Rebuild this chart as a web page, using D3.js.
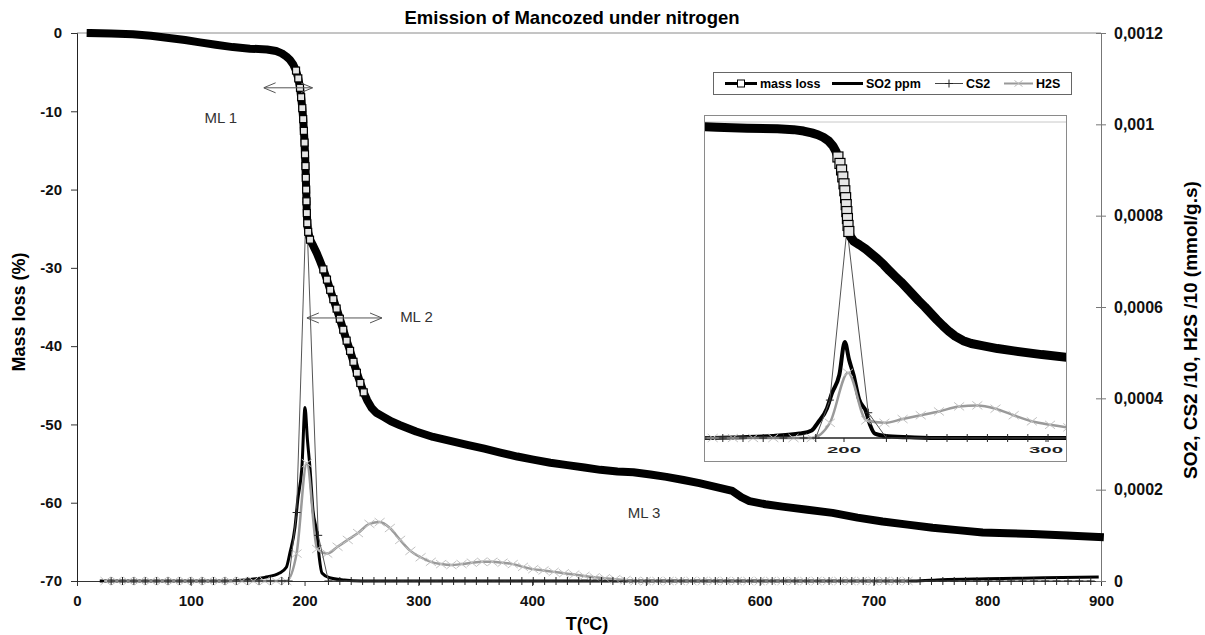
<!DOCTYPE html>
<html>
<head>
<meta charset="utf-8">
<script src="https://cdn.jsdelivr.net/npm/d3@7"></script>
<style>
  body { margin: 0; background: #fff; }
  svg { font-family: "Liberation Sans", Arial, sans-serif; }
</style>
</head>
<body>
<div id="chart"></div>
<script>
// ---- data ----
const tempTicks = [0, 100, 200, 300, 400, 500, 600, 700, 800, 900];
const massTicks = [-70, -60, -50, -40, -30, -20, -10, 0];
const emisTicks = [0, 0.0002, 0.0004, 0.0006, 0.0008, 0.001, 0.0012];
const insetTicks = [200, 300];
const legendLabels = ["mass loss", "SO2 ppm", "CS2", "H2S"];

// mass loss (%) vs T (ºC)
const massLoss = [
  [12, 0], [30, -0.05], [49, -0.15], [65, -0.35], [79, -0.6], [95, -0.9], [108, -1.2], [122, -1.5],
  [137, -1.8], [152, -2.0], [167, -2.1], [175, -2.3], [180, -2.6], [184, -3.0], [187, -3.4], [190, -4.0],
  [192.5, -4.8], [194.5, -5.8], [196, -7.0], [197, -8.2], [198, -9.6], [198.8, -11.0], [199.4, -12.5],
  [200, -14.0], [200.4, -15.5], [200.8, -17.0], [201.1, -18.5], [201.4, -20.0], [201.7, -21.5],
  [202, -23.0], [202.4, -24.3], [203.2, -25.4], [204.8, -26.4], [207.7, -27.2], [210.7, -28.1],
  [213.5, -29.1], [216.5, -30.2], [219.7, -31.5], [222.5, -32.8], [225.3, -34.0], [228.2, -35.2],
  [231, -36.5], [234, -37.9], [237, -39.3], [240, -40.6], [243, -42.0], [246, -43.4], [249, -44.7],
  [252, -45.9], [255, -46.9], [259, -47.9], [263, -48.5], [269, -49.0], [276, -49.6], [284, -50.1],
  [298, -50.9], [313, -51.6], [328, -52.1], [343, -52.6], [358, -53.1], [372, -53.6], [387, -54.1],
  [401, -54.5], [416, -54.9], [431, -55.2], [446, -55.5], [460, -55.8], [475, -56.0], [489, -56.1],
  [504, -56.4], [518, -56.7], [533, -57.1], [547, -57.5], [562, -58.0], [576, -58.5], [584, -59.3],
  [591, -59.8], [605, -60.2], [620, -60.5], [642, -60.9], [664, -61.3], [686, -61.9], [708, -62.4],
  [730, -62.8], [752, -63.2], [774, -63.5], [796, -63.8], [818, -63.9], [840, -64.0], [870, -64.2],
  [899, -64.4]
];

// SO2 ppm (mmol/g.s)
const so2 = [
  [20, 0], [60, 0], [100, 0], [130, 0], [150, 0.000003], [165, 0.000008], [178, 0.0000175],
  [184, 0.00003], [187, 0.00006], [191.6, 0.000118], [194, 0.000177], [197.7, 0.00025],
  [200.4, 0.00038], [202.5, 0.00031], [204.7, 0.00025], [207.4, 0.000155], [210.9, 0.000105],
  [213, 0.00005], [215.3, 0.0000175], [222, 0.000007], [235, 0.000002], [250, 0], [400, 0],
  [600, 0], [735, 0], [760, 0.000003], [800, 0.000005], [850, 0.000007], [898, 0.000009]
];

// CS2 /10
const cs2 = [
  [30, 0], [40, 0], [50, 0], [60, 0], [70, 0], [80, 0], [90, 0], [100, 0], [110, 0], [120, 0],
  [130, 0], [140, 0], [150, 0], [160, 0], [170, 0], [180, 0], [186, 0], [193, 0.00015],
  [201.5, 0.00083], [212, 0.0001], [221, 0], [231, 0], [241, 0], [251, 0], [261, 0], [271, 0],
  [281, 0], [291, 0], [301, 0], [311, 0], [321, 0], [331, 0], [341, 0], [351, 0], [361, 0],
  [371, 0], [381, 0], [391, 0], [401, 0], [411, 0], [421, 0], [431, 0], [441, 0], [451, 0],
  [461, 0], [471, 0], [481, 0], [491, 0], [501, 0], [511, 0], [521, 0], [531, 0], [541, 0],
  [551, 0], [561, 0], [571, 0], [581, 0], [591, 0], [601, 0], [611, 0], [621, 0], [631, 0],
  [641, 0], [651, 0], [661, 0], [671, 0], [681, 0], [691, 0], [701, 0], [711, 0], [721, 0],
  [731, 0], [741, 0], [751, 0], [761, 0], [771, 0], [781, 0], [791, 0], [801, 0], [811, 0],
  [821, 0], [831, 0], [841, 0], [851, 0], [861, 0], [871, 0], [881, 0], [891, 0]
];

// H2S /10
const h2s = [
  [25, 0], [35, 0], [45, 0], [55, 0], [65, 0], [75, 0], [85, 0], [95, 0], [105, 0], [115, 0],
  [125, 0], [135, 0], [145, 0], [155, 0], [165, 0], [175, 0], [184, 0], [193, 0.00006],
  [202, 0.000258], [211, 0.00007], [220, 0.00006], [229, 0.000075], [238, 0.00009],
  [247, 0.000105], [257, 0.000125], [266, 0.000129], [275, 0.000116], [284, 0.00009],
  [293, 0.000066], [302, 0.000052], [311, 0.000042], [320, 0.000037], [329, 0.000035],
  [338, 0.000037], [347, 0.00004], [356, 0.000042], [365, 0.000042], [374, 0.00004],
  [383, 0.000037], [392, 0.000031], [401, 0.000026], [410, 0.000023], [419, 0.00002],
  [428, 0.000017], [437, 0.000014], [446, 0.000011], [455, 0.000008], [464, 0.000006],
  [473, 0.000004], [482, 0.000002], [491, 0], [500, 0], [510, 0], [520, 0], [530, 0], [540, 0],
  [550, 0], [560, 0], [570, 0], [580, 0], [590, 0], [600, 0], [610, 0], [620, 0], [630, 0],
  [640, 0], [650, 0], [660, 0], [670, 0], [680, 0], [690, 0], [700, 0], [710, 0], [720, 0], [730, 0]
];

// ---- layout ----
const width = 1205, height = 635;

const svg = d3.select("#chart").append("svg")
  .attr("width", width)
  .attr("height", height);

const x = d3.scaleLinear().domain([0, 900]).range([77, 1101]);
const yMass = d3.scaleLinear().domain([-70, 0]).range([581, 33]);
const yEmis = d3.scaleLinear().domain([0, 0.0012]).range([581, 33]);

const fmtEmis = d => d === 0 ? "0" : String(+d.toFixed(4)).replace(".", ",");

// arrow head for the ML annotations
svg.append("defs").append("marker")
  .attr("id", "arrow")
  .attr("viewBox", "0 -6 12 12")
  .attr("refX", 12).attr("refY", 0)
  .attr("markerWidth", 12).attr("markerHeight", 12)
  .attr("markerUnits", "userSpaceOnUse")
  .attr("orient", "auto-start-reverse")
  .append("path")
  .attr("d", "M0,-5L12,0L0,5")
  .attr("fill", "none")
  .attr("stroke", "#555")
  .attr("stroke-width", 1);

svg.select("defs").append("clipPath").attr("id", "insetClip")
  .append("rect").attr("x", 705).attr("y", 116).attr("width", 361).attr("height", 330);

// top border of the plot area
svg.append("line")
  .attr("x1", x(0)).attr("x2", x(900))
  .attr("y1", yMass(0)).attr("y2", yMass(0))
  .attr("stroke", "#8a8a8a");

// ---- series drawing, shared by the main plot and the inset ----
function drawSeries(g, xs, ym, ye, opt) {
  const lineE = curve => d3.line().x(d => xs(d[0])).y(d => ye(d[1])).curve(curve);

  // SO2
  g.append("path").datum(so2)
    .attr("fill", "none").attr("stroke", "#000").attr("stroke-width", opt.so2W)
    .attr("stroke-linejoin", "round")
    .attr("d", lineE(d3.curveMonotoneX));

  // H2S
  g.append("path").datum(h2s)
    .attr("fill", "none").attr("stroke", "#9a9a9a").attr("stroke-width", opt.h2sW)
    .attr("d", lineE(d3.curveMonotoneX));
  g.append("g").selectAll("path").data(h2s).join("path")
    .attr("transform", d => `translate(${xs(d[0])},${ye(d[1])})`)
    .attr("d", "M-5,-4L5,4M-5,4L5,-4")
    .attr("fill", "none").attr("stroke", "#c2c2c2").attr("stroke-width", 1);

  // CS2
  g.append("path").datum(cs2)
    .attr("fill", "none").attr("stroke", "#555").attr("stroke-width", 1)
    .attr("d", lineE(d3.curveLinear));
  g.append("g").selectAll("path").data(cs2).join("path")
    .attr("transform", d => `translate(${xs(d[0])},${ye(d[1])})`)
    .attr("d", "M0,-4V4M-4,0H4")
    .attr("fill", "none").attr("stroke", "#222").attr("stroke-width", 1);

  // mass loss: dense open squares make a thick band
  g.append("path").datum(massLoss)
    .attr("fill", "none").attr("stroke", "#000").attr("stroke-width", opt.band)
    .attr("stroke-linejoin", "round").attr("stroke-linecap", "square")
    .attr("d", d3.line().x(d => xs(d[0])).y(d => ym(d[1])));

  const steep = massLoss.filter((d, i) => {
    const a = massLoss[Math.max(i - 1, 0)];
    const b = massLoss[Math.min(i + 1, massLoss.length - 1)];
    const dx = Math.abs(xs(b[0]) - xs(a[0]));
    const dy = Math.abs(ym(b[1]) - ym(a[1]));
    return dy > 2.5 * dx;
  });
  g.append("g").selectAll("rect").data(steep).join("rect")
    .attr("x", d => xs(d[0]) - opt.sq / 2)
    .attr("y", d => ym(d[1]) - opt.sq / 2)
    .attr("width", opt.sq).attr("height", opt.sq)
    .attr("fill", "#e6e6e6").attr("stroke", "#000").attr("stroke-width", 1.2);
}

// ---- axes ----
const xAxis = svg.append("g")
  .attr("transform", `translate(0,${yMass(-70)})`)
  .call(d3.axisBottom(x).tickValues(tempTicks).tickSize(5).tickPadding(9).tickFormat(d => String(d)));

const yAxisL = svg.append("g")
  .attr("transform", `translate(${x(0)},0)`)
  .call(d3.axisLeft(yMass).tickValues(massTicks).tickSize(6).tickPadding(9).tickFormat(d => String(d)));

const yAxisR = svg.append("g")
  .attr("transform", `translate(${x(900)},0)`)
  .call(d3.axisRight(yEmis).tickValues(emisTicks).tickSize(5).tickPadding(8).tickFormat(fmtEmis));
yAxisR.selectAll(".tick line").attr("x1", -5).attr("x2", 5);

[xAxis, yAxisL, yAxisR].forEach(a => {
  a.selectAll("text")
    .attr("font-family", "'Liberation Sans', Arial, sans-serif")
    .attr("font-size", 15)
    .attr("font-weight", "bold")
    .attr("fill", "#111");
  a.selectAll("line").attr("stroke", "#333");
});
yAxisR.selectAll("text").attr("font-size", 16);
xAxis.select(".domain").attr("stroke", "#333");
yAxisL.select(".domain").attr("stroke", "#222");
yAxisR.select(".domain").attr("stroke", "#777");
yAxisR.selectAll("line").attr("stroke", "#777");

// ---- main series ----
drawSeries(svg.append("g"), x, yMass, yEmis, { so2W: 3, h2sW: 2.5, band: 8, sq: 7 });

// ---- annotations ----
const arrows = [
  { from: [164, -7], to: [207, -7] },
  { from: [202, -36.4], to: [268, -36.4] }
];
svg.append("g").selectAll("line").data(arrows).join("line")
  .attr("x1", d => x(d.from[0])).attr("y1", d => yMass(d.from[1]))
  .attr("x2", d => x(d.to[0])).attr("y2", d => yMass(d.to[1]))
  .attr("stroke", "#555").attr("stroke-width", 1)
  .attr("marker-start", "url(#arrow)").attr("marker-end", "url(#arrow)");

const notes = [
  { text: "ML 1", t: 112, m: -11.5 },
  { text: "ML 2", t: 284, m: -36.9 },
  { text: "ML 3", t: 484, m: -61.9 }
];
svg.append("g").selectAll("text").data(notes).join("text")
  .attr("x", d => x(d.t)).attr("y", d => yMass(d.m))
  .attr("font-size", 15).attr("fill", "#333")
  .text(d => d.text);

// ---- titles ----
svg.append("text")
  .attr("x", 572).attr("y", 24)
  .attr("text-anchor", "middle")
  .attr("font-size", 18.5).attr("font-weight", "bold")
  .text("Emission of Mancozed under nitrogen");

svg.append("text")
  .attr("x", 587).attr("y", 630)
  .attr("text-anchor", "middle")
  .attr("font-size", 18).attr("font-weight", "bold")
  .text("T(ºC)");

svg.append("text")
  .attr("transform", "translate(25,312) rotate(-90)")
  .attr("text-anchor", "middle")
  .attr("font-size", 18).attr("font-weight", "bold")
  .text("Mass loss (%)");

svg.append("text")
  .attr("transform", "translate(1197,330) rotate(-90)")
  .attr("text-anchor", "middle")
  .attr("font-size", 19).attr("font-weight", "bold")
  .text("SO2, CS2 /10, H2S /10 (mmol/g.s)");

// ---- legend ----
const legend = svg.append("g");
legend.append("rect")
  .attr("x", 713.5).attr("y", 72.5).attr("width", 358).attr("height", 22)
  .attr("fill", "#fff").attr("stroke", "#666");

const legendItems = [
  { x0: 725, x1: 757, stroke: "#000", w: 3, mark: "square" },
  { x0: 832, x1: 863, stroke: "#000", w: 3, mark: null },
  { x0: 935, x1: 963, stroke: "#444", w: 1, mark: "plus" },
  { x0: 1004, x1: 1033, stroke: "#999", w: 2, mark: "times" }
];
legendItems.forEach((it, i) => {
  const cy = 83.5, cx = (it.x0 + it.x1) / 2;
  legend.append("line")
    .attr("x1", it.x0).attr("x2", it.x1).attr("y1", cy).attr("y2", cy)
    .attr("stroke", it.stroke).attr("stroke-width", it.w);
  if (it.mark === "square") {
    legend.append("rect").attr("x", cx - 3.5).attr("y", cy - 3.5).attr("width", 7).attr("height", 7)
      .attr("fill", "#fff").attr("stroke", "#000");
  } else if (it.mark === "plus") {
    legend.append("path").attr("d", `M${cx},${cy - 4}V${cy + 4}M${cx - 4},${cy}H${cx + 4}`)
      .attr("stroke", "#222");
  } else if (it.mark === "times") {
    legend.append("path").attr("d", `M${cx - 4},${cy - 3}L${cx + 4},${cy + 3}M${cx - 4},${cy + 3}L${cx + 4},${cy - 3}`)
      .attr("stroke", "#bbb");
  }
  legend.append("text")
    .attr("x", it.x1 + 3).attr("y", cy + 4.5)
    .attr("font-size", 12.5).attr("font-weight", "bold")
    .text(legendLabels[i]);
});

// ---- inset (zoom on 130-310 ºC) ----
const xi = d3.scaleLinear().domain([200, 300]).range([844, 1046]);
const ymi = d3.scaleLinear().domain([-70, 0]).range([443, 119]);
const yei = d3.scaleLinear().domain([0, 0.00125]).range([438, 122]);

const inset = svg.append("g");
inset.append("rect")
  .attr("x", 704.5).attr("y", 115.5).attr("width", 362).attr("height", 346)
  .attr("fill", "#fff").attr("stroke", "#8a8a8a");
inset.append("line")
  .attr("x1", 705).attr("x2", 1066).attr("y1", 122).attr("y2", 122)
  .attr("stroke", "#c8c8c8");

inset.append("line")
  .attr("x1", 705).attr("x2", 1066).attr("y1", yei(0)).attr("y2", yei(0))
  .attr("stroke", "#222").attr("stroke-width", 1.5);

drawSeries(inset.append("g").attr("clip-path", "url(#insetClip)"), xi, ymi, yei,
  { so2W: 4, h2sW: 2.5, band: 9, sq: 10 });

inset.append("g").selectAll("line").data(insetTicks).join("line")
  .attr("x1", d => xi(d)).attr("x2", d => xi(d))
  .attr("y1", yei(0)).attr("y2", yei(0) + 4)
  .attr("stroke", "#222");
inset.append("g").selectAll("text").data(insetTicks).join("text")
  .attr("x", d => xi(d) - 17).attr("y", 453)
  .attr("font-size", 9).attr("font-weight", "bold").attr("fill", "#222")
  .attr("textLength", 34).attr("lengthAdjust", "spacingAndGlyphs")
  .text(d => d);
</script>
</body>
</html>
